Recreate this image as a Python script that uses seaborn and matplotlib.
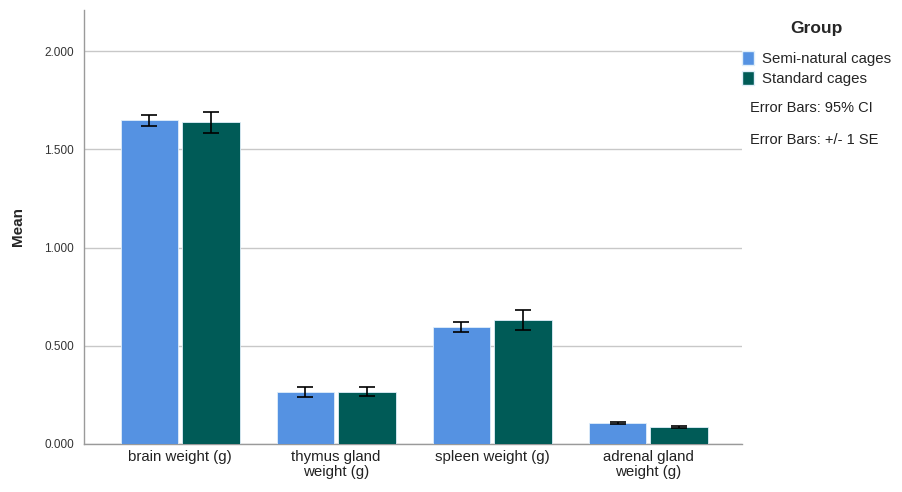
import matplotlib
matplotlib.use("Agg")
import matplotlib.pyplot as plt
import seaborn as sns
import pandas as pd
from matplotlib.patches import Patch

categories = ["brain weight (g)", "thymus gland\nweight (g)", "spleen weight (g)", "adrenal gland\nweight (g)"]
groups = ["Semi-natural cages", "Standard cages"]
semi_means = [1.648, 0.265, 0.595, 0.107]
std_means = [1.638, 0.267, 0.633, 0.087]
semi_err = [0.028, 0.025, 0.024, 0.005]
std_err = [0.054, 0.025, 0.050, 0.003]
yticks = [0.0, 0.5, 1.0, 1.5, 2.0]
ytick_labels = ["0.000", "0.500", "1.000", "1.500", "2.000"]

colors = ["#5592E2", "#005B57"]

sns.set_theme(style="white")
plt.rcParams["font.family"] = ["Liberation Sans", "DejaVu Sans"]

df = pd.DataFrame({
    "cat": categories * 2,
    "group": [groups[0]] * 4 + [groups[1]] * 4,
    "mean": semi_means + std_means,
    "err": semi_err + std_err,
})

fig = plt.figure(figsize=(9.02, 4.92), dpi=100)
ax = fig.add_axes([84 / 902, 1 - 444 / 492, (742 - 84) / 902, (444 - 10) / 492])

sns.barplot(data=df, x="cat", y="mean", hue="group", palette=colors, saturation=1,
            order=categories, hue_order=groups, errorbar=None,
            width=0.79, gap=0.07, edgecolor="#dfeefa", linewidth=0.6,
            legend=False, ax=ax, zorder=3)

# error bars at bar centers
for gi, (means, errs) in enumerate([(semi_means, semi_err), (std_means, std_err)]):
    conts = ax.containers[gi]
    xs = [p.get_x() + p.get_width() / 2 for p in conts.patches]
    ax.errorbar(xs, means, yerr=errs, fmt="none", ecolor="black",
                elinewidth=1.2, capsize=6, capthick=1.2, zorder=4)

ax.set_xlim(-0.615, 3.6)
ax.set_ylim(0, 2.21)
ax.set_yticks(yticks)
ax.set_yticklabels(ytick_labels, fontsize=8.5, color="#333333")
ax.tick_params(axis="x", labelsize=10.8, colors="#222222", length=0, pad=4)
ax.tick_params(axis="y", length=3, color="#aaaaaa", pad=4)
for lab in ax.get_xticklabels():
    lab.set_linespacing(1.1)
ax.set_xlabel("")
ax.set_ylabel("Mean", fontsize=11, fontweight="bold", labelpad=14)
ax.yaxis.grid(True, color="#c8c8c8", linewidth=1, zorder=0)
ax.set_axisbelow(True)
for s in ["top", "right"]:
    ax.spines[s].set_visible(False)
for s in ["left", "bottom"]:
    ax.spines[s].set_color("#9a9a9a")
    ax.spines[s].set_linewidth(1)

handles = [Patch(facecolor=c, edgecolor="#dfeefa") for c in colors]
leg = fig.legend(handles, groups, title="Group", loc="upper left",
                 bbox_to_anchor=(742 / 902, 1 - 21 / 492), frameon=False,
                 fontsize=10.8, title_fontsize=12.5, handlelength=0.8, handleheight=1.0,
                 handletextpad=0.5, labelspacing=0.35, borderaxespad=0, borderpad=0)
leg.get_title().set_fontweight("bold")
leg._legend_box.align = "center"
leg._legend_box.sep = 11

fig.text(750 / 902, 1 - 108 / 492, "Error Bars: 95% CI", fontsize=10.5, color="#222222", va="center")
fig.text(750 / 902, 1 - 140 / 492, "Error Bars: +/- 1 SE", fontsize=10.5, color="#222222", va="center")

fig.savefig("out.png", dpi=100)
